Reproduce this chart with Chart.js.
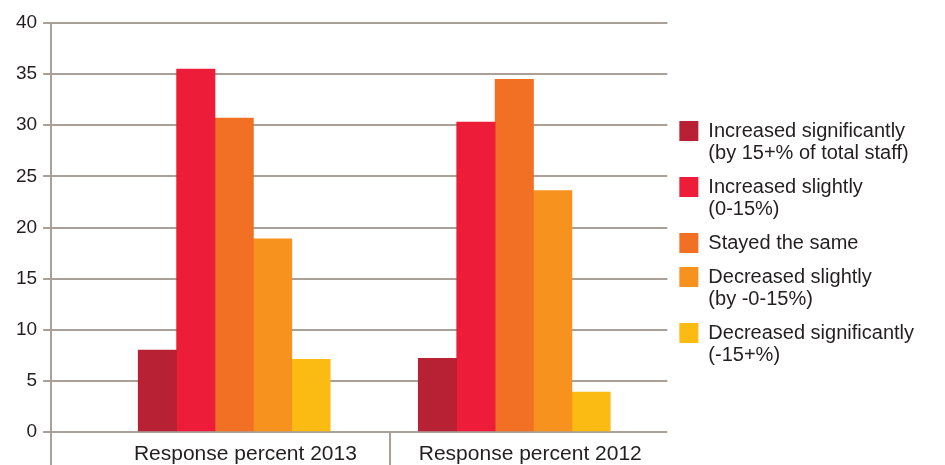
<!DOCTYPE html>
<html>
<head>
<meta charset="utf-8">
<script src="https://cdn.jsdelivr.net/npm/chart.js@4"></script>
<style>
  html, body { margin: 0; padding: 0; background: #fff; }
  #wrap { width: 945px; height: 465px; position: relative; }
</style>
</head>
<body>
<div id="wrap"><canvas id="chart"></canvas></div>
<script>
// staff change survey, response percent by year
const categories = ['Response percent 2013', 'Response percent 2012'];
const seriesNames = [
  ['Increased significantly', '(by 15+% of total staff)'],
  ['Increased slightly', '(0-15%)'],
  ['Stayed the same'],
  ['Decreased slightly', '(by -0-15%)'],
  ['Decreased significantly', '(-15+%)']
];
const increasedSignificantly = [8.0, 7.2];
const increasedSlightly = [35.5, 30.3];
const stayedSame = [30.7, 34.5];
const decreasedSlightly = [18.9, 23.6];
const decreasedSignificantly = [7.1, 3.9];
const yTicks = [0, 5, 10, 15, 20, 25, 30, 35, 40];

const seriesValues = [increasedSignificantly, increasedSlightly, stayedSame, decreasedSlightly, decreasedSignificantly];
const seriesColors = ['#b82034', '#ed1c38', '#f17023', '#f7921f', '#fcbb12'];

const gridColor = '#aaa097';
const textColor = '#231f20';
const fontFamily = '"Helvetica Neue", "Liberation Sans", Arial, sans-serif';

// x is linear so the two groups can sit off-centre like the original layout
const xMin = 0.3464;
const xMax = 2.5464;
const dividerAt = 1.557;
// category captions sit a little right of their bar groups
const labelAt = [1.04, 2.057];

const datasets = seriesValues.map((vals, i) => {
  return {
    label: seriesNames[i],
    data: vals.map((v, j) => ({ x: j + 1, y: v })),
    backgroundColor: seriesColors[i],
    borderWidth: 0,
    barThickness: 38.4
  };
});

// the layout caps side boxes at a quarter of the width; let the legend take what it needs
const wideLegend = {
  id: 'wideLegend',
  beforeUpdate(chart) {
    const legend = chart.legend;
    if (legend && !legend._wide) {
      const update = legend.update.bind(legend);
      legend.update = (w, h, m) => update(Math.max(w, 280), h, m);
      legend._wide = true;
    }
  }
};

const ctx = document.getElementById('chart').getContext('2d');
new Chart(ctx, {
  type: 'bar',
  data: { datasets: datasets },
  plugins: [wideLegend],
  options: {
    responsive: true,
    maintainAspectRatio: false,
    animation: false,
    layout: { padding: { top: 23, right: 21, bottom: 0, left: 10 } },
    plugins: {
      tooltip: { enabled: false },
      legend: {
        position: 'right',
        align: 'center',
        labels: {
          boxWidth: 19,
          boxHeight: 20,
          padding: 12,
          color: textColor,
          font: { family: fontFamily, size: 20, lineHeight: 1.1 }
        }
      }
    },
    scales: {
      // category labels
      x: {
        type: 'linear',
        weight: 1,
        min: xMin,
        max: xMax,
        offset: false,
        afterBuildTicks: (scale) => {
          scale.ticks = labelAt.map(v => ({ value: v }));
        },
        border: { display: false },
        grid: {
          offset: false,
          drawOnChartArea: false,
          drawTicks: true,
          tickLength: 12,
          color: 'rgba(0,0,0,0)'
        },
        ticks: {
          autoSkip: false,
          maxRotation: 0,
          minRotation: 0,
          padding: 0,
          color: textColor,
          font: { family: fontFamily, size: 21, lineHeight: 1 },
          callback: (value, index) => categories[index]
        }
      },
      // long tick marks: axis extension and group divider, takes no height
      xTicks: {
        type: 'linear',
        position: 'bottom',
        weight: 0,
        min: xMin,
        max: xMax,
        offset: false,
        afterBuildTicks: (scale) => {
          scale.ticks = [xMin, dividerAt].map(v => ({ value: v }));
        },
        border: { display: false },
        grid: {
          offset: false,
          drawOnChartArea: false,
          drawTicks: true,
          tickLength: 33,
          lineWidth: 2,
          color: gridColor
        },
        ticks: {
          autoSkip: false,
          maxRotation: 0,
          minRotation: 0,
          padding: -17,
          font: { size: 1, lineHeight: 1 },
          callback: () => ''
        }
      },
      y: {
        min: 0,
        max: 40,
        afterBuildTicks: (scale) => {
          scale.ticks = yTicks.map(v => ({ value: v }));
        },
        border: { display: true, color: gridColor, width: 2 },
        grid: {
          color: gridColor,
          lineWidth: 2,
          drawTicks: true,
          tickLength: 8
        },
        ticks: {
          padding: 6,
          color: textColor,
          font: { family: fontFamily, size: 19 }
        }
      }
    }
  }
});
</script>
</body>
</html>
